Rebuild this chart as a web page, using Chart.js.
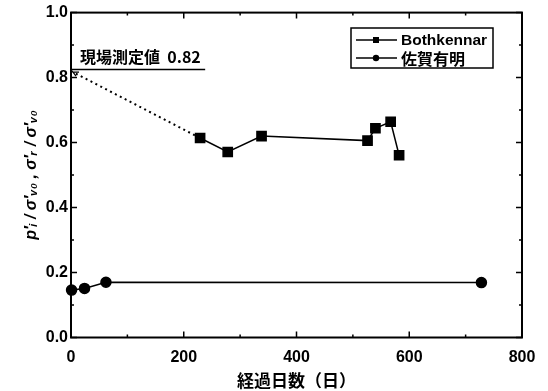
<!DOCTYPE html>
<html><head><meta charset="utf-8">
<script src="https://cdn.jsdelivr.net/npm/chart.js@4.4.0/dist/chart.umd.min.js"></script>
<style>html,body{margin:0;padding:0;background:#fff}#wrap{width:548px;height:391px;position:relative}</style>
</head><body><div id="wrap"><canvas id="c" width="548" height="391"></canvas></div>
<script>
const bothDays = [229, 278, 338, 526, 540, 567, 582];
const bothValues = [0.614, 0.571, 0.620, 0.606, 0.644, 0.664, 0.561];
const sagaDays = [1, 24, 62, 728];
const sagaValues = [0.146, 0.151, 0.170, 0.169];
const fieldDays = [0, 229];
const fieldValues = [0.82, 0.614];
const fieldLabel = '現場測定値  0.82';
const seriesNames = ['Bothkennar', '佐賀有明'];
const xTitle = '経過日数（日）';
const yTitle = "p′ᵢ / σ′ᵥ₀ , σ′ᵣ / σ′ᵥ₀";

const FONT = '"Liberation Sans", Arial, "Noto Sans CJK JP", sans-serif';
const JFONT = '"Noto Sans CJK JP", "Liberation Sans", sans-serif';

const toPts = (xs, ys) => xs.map((x, i) => ({x, y: ys[i]}));

const frame = {
  id: 'frame',
  afterDraw(chart) {
    const ctx = chart.ctx, a = chart.chartArea;
    const xs = chart.scales.x, ys = chart.scales.y;
    ctx.save();
    ctx.strokeStyle = '#000';
    ctx.lineWidth = 2;
    ctx.strokeRect(a.left, a.top, a.right - a.left, a.bottom - a.top);
    ctx.lineWidth = 1.5;
    for (let v = 0; v <= 800; v += 100) {
      const p = xs.getPixelForValue(v);
      const L = v % 200 === 0 ? 6 : 3;
      ctx.beginPath();
      ctx.moveTo(p, a.bottom); ctx.lineTo(p, a.bottom - L);
      ctx.moveTo(p, a.top); ctx.lineTo(p, a.top + L);
      ctx.stroke();
    }
    for (let k = 0; k <= 10; k++) {
      const v = k / 10;
      const p = ys.getPixelForValue(v);
      const L = k % 2 === 0 ? 6 : 3;
      ctx.beginPath();
      ctx.moveTo(a.left, p); ctx.lineTo(a.left + L, p);
      ctx.moveTo(a.right, p); ctx.lineTo(a.right - L, p);
      ctx.stroke();
    }
    // field value annotation
    const fx = xs.getPixelForValue(fieldDays[0]);
    const fy = ys.getPixelForValue(fieldValues[0]);
    ctx.lineWidth = 1.5;
    ctx.beginPath();
    ctx.moveTo(fx + 1, fy - 1.5); ctx.lineTo(xs.getPixelForValue(238), fy - 1.5);
    ctx.stroke();
    ctx.beginPath();
    ctx.moveTo(fx + 2, fy + 1); ctx.lineTo(fx + 8, fy + 1); ctx.moveTo(fx + 2, fy + 1); ctx.lineTo(fx + 5, fy + 5);
    ctx.lineWidth = 1.2; ctx.stroke();
    ctx.fillStyle = '#000';
    ctx.font = 'bold 16px ' + JFONT;
    ctx.textBaseline = 'alphabetic';
    ctx.textAlign = 'left';
    ctx.fillText(fieldLabel, fx + 9, fy - 8);
    // legend
    const lx = 351, ly = 28, lw = 142, lh = 40;
    ctx.lineWidth = 1.5;
    ctx.strokeRect(lx, ly, lw, lh);
    const rows = [{y: ly + 12, name: seriesNames[0], m: 'sq'}, {y: ly + 30, name: seriesNames[1], m: 'ci'}];
    rows.forEach(r => {
      ctx.beginPath();
      ctx.moveTo(lx + 5, r.y); ctx.lineTo(lx + 46, r.y);
      ctx.lineWidth = 1.5; ctx.stroke();
      if (r.m === 'sq') ctx.fillRect(lx + 22, r.y - 3, 6, 6);
      else { ctx.beginPath(); ctx.arc(lx + 25, r.y, 3.2, 0, Math.PI * 2); ctx.fill(); }
      ctx.font = (r.m === 'sq' ? 'bold 15.5px ' + FONT : 'bold 16px ' + JFONT);
      ctx.textBaseline = 'middle';
      ctx.fillText(r.name, lx + 50, r.y + 1);
    });
    ctx.restore();
  }
};

new Chart(document.getElementById('c'), {
  type: 'scatter',
  data: {
    datasets: [
      {label: seriesNames[0], data: toPts(bothDays, bothValues), showLine: true, borderColor: '#000', borderWidth: 1.5,
       pointStyle: 'rect', pointRadius: 6.5, pointBackgroundColor: '#000', pointBorderColor: '#000', tension: 0},
      {label: seriesNames[1], data: toPts(sagaDays, sagaValues), showLine: true, borderColor: '#000', borderWidth: 1.5,
       pointStyle: 'circle', pointRadius: 5, pointBackgroundColor: '#000', pointBorderColor: '#000', tension: 0},
      {label: 'field', data: toPts(fieldDays, fieldValues), showLine: true, borderColor: '#000', borderWidth: 2,
       borderDash: [2, 3.5], pointRadius: 0}
    ]
  },
  options: {
    responsive: false, animation: false, clip: false,
    layout: {padding: {left: 22, right: 26, top: 12, bottom: 0}},
    plugins: {legend: {display: false}, tooltip: {enabled: false}},
    scales: {
      x: {type: 'linear', min: 0, max: 800,
          grid: {display: false, drawTicks: false}, border: {display: false},
          ticks: {stepSize: 200, color: '#000', padding: 10, font: {family: FONT, size: 16, weight: 'bold'}},
          title: {display: true, text: xTitle, color: '#000', padding: {top: 0, bottom: 0}, font: {family: JFONT, size: 17, weight: 'bold'}},
          afterFit(s) { s.height = 53.5; }},
      y: {type: 'linear', min: 0, max: 1.0,
          grid: {display: false, drawTicks: false}, border: {display: false},
          ticks: {stepSize: 0.2, color: '#000', padding: 3, callback: v => v.toFixed(1), font: {family: FONT, size: 16, weight: 'bold'}},
          title: {display: true, text: yTitle, color: '#000', padding: {top: 0, bottom: 0}, font: {family: FONT, size: 16, weight: 'bold', style: 'italic'}},
          afterFit(s) { s.width = 49; }}
    }
  },
  plugins: [frame]
});
</script></body></html>
